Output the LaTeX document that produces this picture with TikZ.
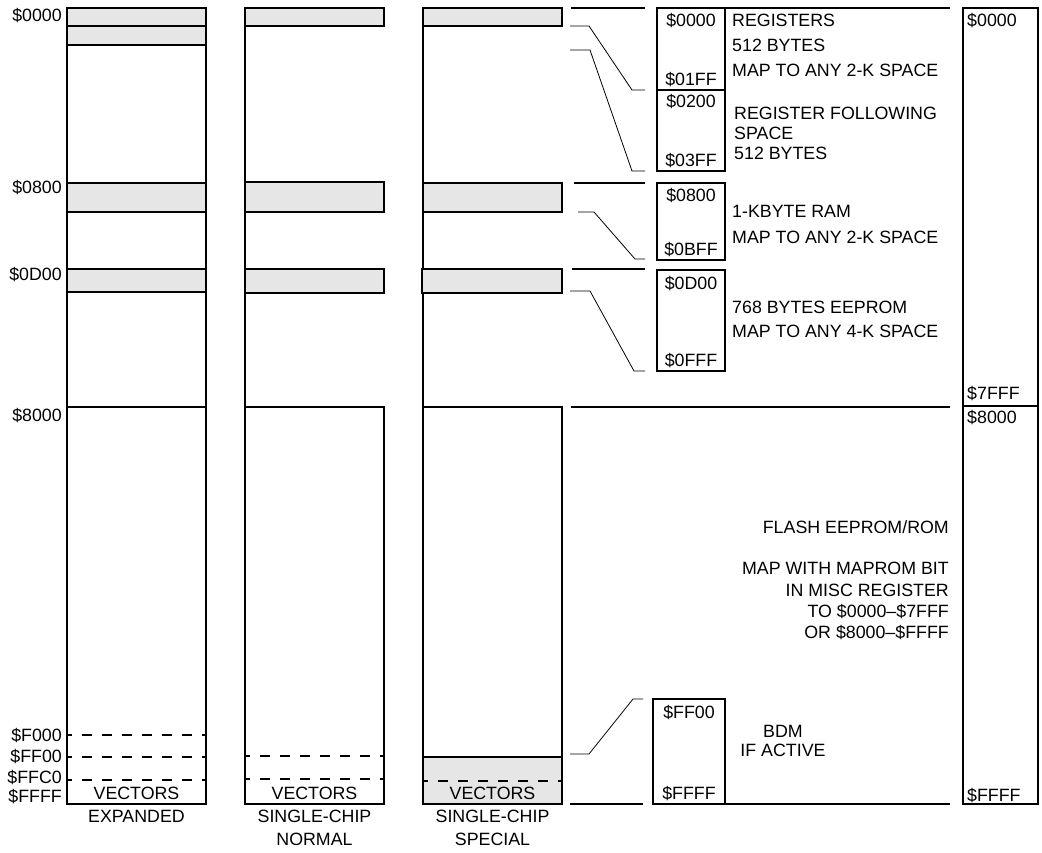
\documentclass[tikz,border=0pt]{standalone}
\usepackage{fontspec}
\setmainfont{Liberation Sans}
\definecolor{bandgray}{HTML}{E6E6E6}
\tikzset{
  box/.style={draw=black, line width=1.6pt},
  band/.style={draw=black, fill=bandgray, line width=1.6pt},
  lead/.style={draw=black, line width=0.8pt},
  dashline/.style={draw=black, line width=1.6pt, dash pattern=on 10pt off 10pt, dash phase=5pt},
  lbl/.style={font=\fontsize{17.8}{20}\selectfont, inner sep=0pt, text height=12.7pt, text depth=0pt},
}
\begin{document}
\begin{tikzpicture}[x=1pt,y=-1pt]
\useasboundingbox (0,0) rectangle (1042,852);

% ---------- column 1: EXPANDED ----------
\draw[box] (67,8) rectangle (206,804);
\draw[band] (67,8) rectangle (206,26);
\draw[band] (67,26) rectangle (206,45);
\draw[band] (67,183) rectangle (206,212);
\draw[band] (67,269) rectangle (206,292);
\draw[box] (67,407) -- (206,407);
\draw[dashline] (67,735) -- (206,735);
\draw[dashline] (67,757) -- (206,757);
\draw[dashline] (67,780) -- (206,780);

% ---------- column 2: SINGLE-CHIP NORMAL ----------
\draw[box] (245,8) -- (245,407);
\draw[band] (245,8) rectangle (384,26);
\draw[band] (245,182) rectangle (384,212);
\draw[band] (245,269) rectangle (384,293);
\draw[box] (245,407) rectangle (384,804);
\draw[dashline] (245,756) -- (384,756);
\draw[dashline] (245,779) -- (384,779);

% ---------- column 3: SINGLE-CHIP SPECIAL ----------
\draw[box] (423,8) -- (423,407);
\draw[band] (423,8) rectangle (562,26);
\draw[band] (423,183) rectangle (562,212);
\draw[band] (422,269) rectangle (562,293);
\draw[box] (423,407) rectangle (562,804);
\draw[band] (423,757) rectangle (562,804);
\draw[dashline] (423,781) -- (562,781);

% ---------- left address labels ----------
\node[lbl, anchor=east] (a0000) at (62,15) {\$0000};
\node[lbl, anchor=east] (a0800) at (62,187) {\$0800};
\node[lbl, anchor=east] (a0D00) at (62,274) {\$0D00};
\node[lbl, anchor=east] (a8000) at (62,415) {\$8000};
\node[lbl, anchor=east] (aF000) at (62,735) {\$F000};
\node[lbl, anchor=east] (aFF00) at (62,756) {\$FF00};
\node[lbl, anchor=east] (aFFC0) at (62,777) {\$FFC0};
\node[lbl, anchor=east] (aFFFF) at (62,796) {\$FFFF};

% ---------- column texts ----------
\node[lbl] (v1) at (136.5,793) {VECTORS};
\node[lbl] (v2) at (314.5,793) {VECTORS};
\node[lbl] (v3) at (492.5,793) {VECTORS};
\node[lbl] (c1) at (136.5,816) {EXPANDED};
\node[lbl] (c2a) at (314.5,816) {SINGLE-CHIP};
\node[lbl] (c2b) at (314.5,839) {NORMAL};
\node[lbl] (c3a) at (492.5,816) {SINGLE-CHIP};
\node[lbl] (c3b) at (492.5,839) {SPECIAL};

% ---------- registers detail ----------
\draw[box] (571,8) -- (645,8);
\draw[lead] (570,26) -- (589,26) -- (632,90) -- (645,90);
\draw[lead] (570,50) -- (590,50) -- (632,171) -- (645,171);
\draw[box] (657,8) rectangle (725,171);
\draw[box] (657,90) -- (725,90);
\draw[box] (725,8) -- (950,8);
\node[lbl] (r1) at (691,20) {\$0000};
\node[lbl] (r2) at (691,79) {\$01FF};
\node[lbl] (r3) at (691,101) {\$0200};
\node[lbl] (r4) at (691,160) {\$03FF};
\node[lbl, anchor=west] (t1) at (732,20) {REGISTERS};
\node[lbl, anchor=west] (t2) at (732,45) {512 BYTES};
\node[lbl, anchor=west] (t3) at (732,70) {MAP TO ANY 2-K SPACE};
\node[lbl, anchor=west] (t4) at (734,113) {REGISTER FOLLOWING};
\node[lbl, anchor=west] (t5) at (734,133) {SPACE};
\node[lbl, anchor=west] (t6) at (734,153) {512 BYTES};

% ---------- RAM detail ----------
\draw[box] (574,183) -- (645,183);
\draw[lead] (578,212) -- (594,212) -- (635,259) -- (645,259);
\draw[box] (657,183) rectangle (725,260);
\node[lbl] (m1) at (691,195) {\$0800};
\node[lbl] (m2) at (691,249) {\$0BFF};
\node[lbl, anchor=west] (t7) at (732,211) {1-KBYTE RAM};
\node[lbl, anchor=west] (t8) at (732,237) {MAP TO ANY 2-K SPACE};

% ---------- EEPROM detail ----------
\draw[box] (572,269) -- (645,269);
\draw[lead] (570,291) -- (590,291) -- (634,371) -- (645,371);
\draw[box] (657,270) rectangle (725,371);
\node[lbl] (e1) at (691,283) {\$0D00};
\node[lbl] (e2) at (691,360) {\$0FFF};
\node[lbl, anchor=west] (t9) at (732,307) {768 BYTES EEPROM};
\node[lbl, anchor=west] (t10) at (732,331) {MAP TO ANY 4-K SPACE};

% ---------- flash ----------
\draw[box] (571,407) -- (950,407);
\node[lbl, anchor=east] (f1) at (949,527) {FLASH EEPROM/ROM};
\node[lbl, anchor=east] (f2) at (949,568) {MAP WITH MAPROM BIT};
\node[lbl, anchor=east] (f3) at (949,590) {IN MISC REGISTER};
\node[lbl, anchor=east] (f4) at (949,611) {TO \$0000–\$7FFF};
\node[lbl, anchor=east] (f5) at (949,632) {OR \$8000–\$FFFF};

% ---------- BDM detail ----------
\draw[box] (570,804) -- (643,804);
\draw[lead] (570,754) -- (589,754) -- (633,699) -- (643,699);
\draw[box] (653,699) rectangle (725,804);
\draw[box] (725,804) -- (950,804);
\node[lbl] (b1) at (689,712) {\$FF00};
\node[lbl] (b2) at (689,793) {\$FFFF};
\node[lbl] (b3) at (783,731) {BDM};
\node[lbl] (b4) at (783,750) {IF ACTIVE};

% ---------- right column ----------
\draw[box] (963,8) rectangle (1038,804);
\draw[box] (963,406) -- (1038,406);
\node[lbl, anchor=west] (x1) at (967,20) {\$0000};
\node[lbl, anchor=west] (x2) at (967,393) {\$7FFF};
\node[lbl, anchor=west] (x3) at (967,417) {\$8000};
\node[lbl, anchor=west] (x4) at (967,795) {\$FFFF};
\end{tikzpicture}
\end{document}
